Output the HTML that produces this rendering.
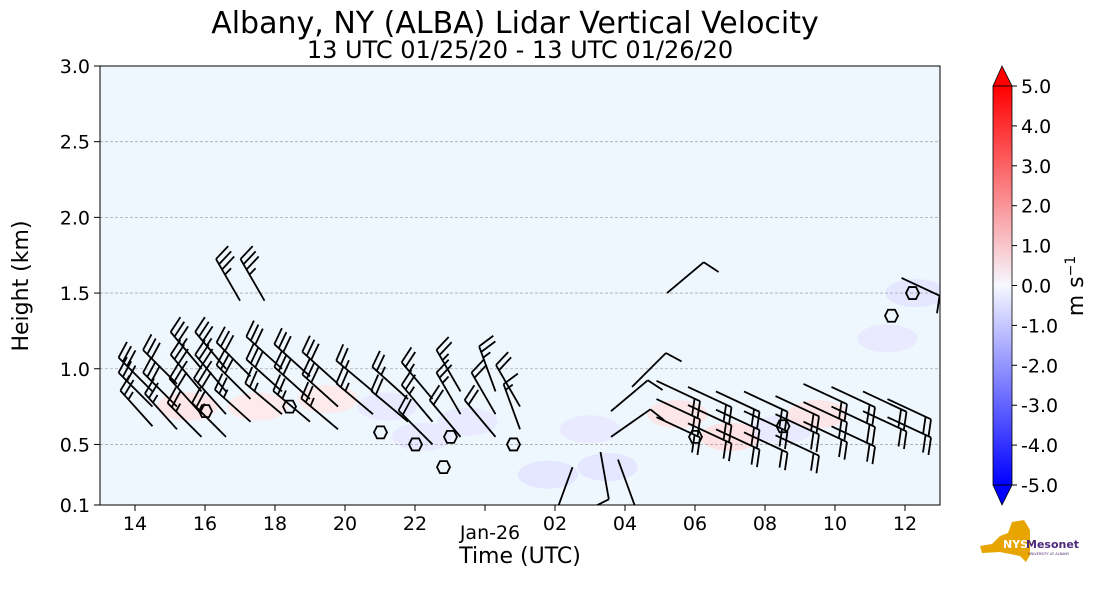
<!DOCTYPE html>
<html><head><meta charset="utf-8"><style>
body{margin:0;background:#fff;}
svg text{font-family:"DejaVu Sans","Liberation Sans",sans-serif;fill:#000;}
</style></head><body>
<svg id="chart" width="1101" height="600" viewBox="0 0 1101 600" xmlns="http://www.w3.org/2000/svg">
<defs>
<linearGradient id="cbg" x1="0" y1="1" x2="0" y2="0">
<stop offset="0" stop-color="#0000ff"/><stop offset="0.5" stop-color="#f6f8ff"/><stop offset="1" stop-color="#ff0000"/>
</linearGradient>
<clipPath id="pc"><rect x="100" y="66" width="840" height="439"/></clipPath>
</defs>
<text x="515" y="33" font-size="30" text-anchor="middle">Albany, NY (ALBA) Lidar Vertical Velocity</text>
<text x="520" y="58" font-size="24" text-anchor="middle">13 UTC 01/25/20 - 13 UTC 01/26/20</text>
<rect x="100" y="66" width="840" height="439" fill="#eef6fe"/>
<g id="shade" clip-path="url(#pc)"></g>
<g id="grid"></g>
<g id="contours" clip-path="url(#pc)"></g>
<g id="barbs" clip-path="url(#pc)"></g>
<rect x="100" y="66" width="840" height="439" fill="none" stroke="#000" stroke-width="1"/>
<g id="yaxis"></g>
<g id="xaxis"></g>
<text transform="translate(28,286) rotate(-90)" font-size="22" text-anchor="middle">Height (km)</text>
<text x="520" y="563" font-size="22" text-anchor="middle">Time (UTC)</text>
<g>
<polygon points="993,86 1002,66 1012,86" fill="#ff0000" stroke="#000" stroke-width="0.8"/>
<rect x="993" y="86" width="19" height="399" fill="url(#cbg)"/>
<polygon points="993,485 1002,505 1012,485" fill="#0000ff" stroke="#000" stroke-width="0.8"/>
<rect x="993" y="86" width="19" height="399" fill="none" stroke="#000" stroke-width="0.8"/>
<g id="cbticks"></g>
<text transform="translate(1083,286) rotate(-90)" font-size="22" text-anchor="middle">m s<tspan baseline-shift="super" font-size="14">−1</tspan></text>
</g>
<g>
<path d="M980,546 L992,544 L1000,536 L1008,533 L1012,522 L1024,520 L1030,530 L1030,555 L1026,562 L1020,556 L1000,552 L982,553 Z" fill="#e8a500"/>
<text x="1003" y="548" font-size="11" font-weight="bold" style="fill:#fff">NYS</text>
<text x="1026" y="548" font-size="11" font-weight="bold" style="fill:#4b2a7b">Mesonet</text>
<text x="1028" y="555" font-size="3.5" style="fill:#4b2a7b">UNIVERSITY AT ALBANY</text>
</g>
</svg>
<script>
// barb data: time (UTC hours from 13 on 01/25), height (km), speed (kt), direction (deg)
const barbTime = [14.5,14.5,14.5,15.2,15.2,15.2,15.9,15.9,15.9,15.9,16.6,16.6,16.6,16.6,17.0,17.7,17.3,17.3,17.3,18.2,18.2,18.2,19.0,19.0,19.0,19.8,19.8,19.8,20.8,20.8,21.8,21.8,22.5,22.5,22.5,23.3,23.3,23.3,24.3,24.3,24.3,25.0,25.0,
 26.5,27.3,27.8,27.6,27.6,28.2,29.2,
 28.9,28.9,28.9,29.8,29.8,29.8,30.6,30.6,30.6,31.4,31.4,31.4,32.3,32.3,32.3,33.1,33.1,33.1,33.9,33.9,33.9,34.8,34.8,35.5,35.5,35.9];
const barbHeight = [0.85,0.75,0.62,0.9,0.75,0.6,1.0,0.85,0.7,0.55,1.0,0.85,0.7,0.55,1.45,1.45,0.95,0.8,0.65,1.0,0.85,0.7,0.95,0.8,0.65,0.9,0.75,0.6,0.85,0.7,0.8,0.65,0.8,0.65,0.5,0.85,0.7,0.55,0.85,0.7,0.55,0.75,0.6,
 0.35,0.45,0.4,0.55,0.72,0.88,1.5,
 0.92,0.8,0.68,0.88,0.76,0.64,0.85,0.73,0.6,0.85,0.72,0.58,0.82,0.7,0.56,0.9,0.78,0.65,0.88,0.75,0.62,0.85,0.72,0.8,0.68,1.6];
const barbSpeed = [30,30,25,30,30,25,35,35,30,25,35,35,30,25,35,35,30,30,25,30,30,25,30,30,25,30,30,25,25,25,25,20,25,25,20,25,25,20,25,20,20,20,15,
 10,10,10,10,10,10,10,
 20,20,20,20,20,20,20,20,20,20,20,20,20,20,20,20,20,20,20,20,20,20,20,20,20,20];
const barbDir = [315,315,318,315,315,318,320,320,318,315,320,320,318,315,330,330,315,315,312,312,312,310,312,312,310,312,312,310,310,310,312,310,320,320,315,330,330,320,340,330,320,330,340,
 200,170,160,55,50,45,50,
 115,115,115,115,115,115,115,115,115,115,115,115,115,115,115,115,115,115,115,115,115,115,115,115,115,115];
// shading patches: time, height, value (m/s)
const shadeTime = [15.5,17.5,19.5,21.2,23.5,25.8,27.5,29.5,31,32.5,33.5,35.5,36.3,22.2,27];
const shadeHeight = [0.75,0.75,0.8,0.75,0.65,0.3,0.35,0.7,0.55,0.6,0.7,1.2,1.5,0.55,0.6];
const shadeValue = [0.4,0.3,0.3,-0.3,-0.3,-0.4,-0.4,0.4,0.5,-0.3,0.4,-0.3,-0.4,-0.3,-0.3];
// contour loop centers: time, height
const contTime = [16.0,18.4,21.0,22.0,23.0,24.8,30.0,32.5,35.6,36.2,22.8];
const contHeight = [0.72,0.75,0.58,0.5,0.55,0.5,0.55,0.62,1.35,1.5,0.35];
const yTicks = [0.1,0.5,1.0,1.5,2.0,2.5,3.0];
const xTicks = [14,16,18,20,22,24,26,28,30,32,34,36];
const xTickLabels = ["14","16","18","20","22","Jan-26","02","04","06","08","10","12"];
const cbTicks = [5,4,3,2,1,0,-1,-2,-3,-4,-5];

const NS='http://www.w3.org/2000/svg';
const xs = t => 100 + 35*(t-13);
const ys = h => 505 - (h-0.1)*439/2.9;
const cbY = v => 285.5 - v*39.9;
function mk(tag, attrs, parent){const e=document.createElementNS(NS,tag);for(const k in attrs)e.setAttribute(k,attrs[k]);parent.appendChild(e);return e;}
function col(v){const f=Math.min(1,Math.abs(v)/5);const g=Math.round(246-246*f);return v>=0?`rgb(255,${g},${g})`:`rgb(${g},${g},255)`;}

const shade=document.getElementById('shade');
shadeTime.forEach((t,i)=>{
  const e=mk('ellipse',{cx:xs(t),cy:ys(shadeHeight[i]),rx:30,ry:14,fill:col(shadeValue[i]),opacity:0.8},shade);
  
  
});
const cont=document.getElementById('contours');
contTime.forEach((t,i)=>{
  const cx=xs(t), cy=ys(contHeight[i]);
  const pts=[[-6,0],[-3,-6],[4,-6],[7,0],[4,6],[-3,6]].map(p=>(cx+p[0])+','+(cy+p[1])).join(' ');
  const e=mk('polygon',{points:pts,fill:'none',stroke:'#000','stroke-width':1.8},cont);
  
  
});

const grid=document.getElementById('grid'), ya=document.getElementById('yaxis'), xa=document.getElementById('xaxis');
yTicks.forEach(v=>{
  const y=ys(v);
  if(v>0.1&&v<3.0){const g=mk('line',{x1:100,x2:940,y1:y,y2:y,stroke:'#aaa','stroke-dasharray':'3,2','stroke-width':0.8},grid);
    
    }
  mk('line',{x1:94,x2:100,y1:y,y2:y,stroke:'#000'},ya);
  const t=mk('text',{x:90,y:y+7,'font-size':19,'text-anchor':'end'},ya);
  t.textContent=v.toFixed(1);
  
  
});
xTicks.forEach((v,i)=>{
  const x=xs(v);
  mk('line',{x1:x,x2:x,y1:505,y2:511,stroke:'#000'},xa);
  const t=mk('text',{x:x+(i===5?5:0),y:i===5?539:530,'font-size':19,'text-anchor':'middle'},xa);
  t.textContent=xTickLabels[i];
  
  
});
const cbt=document.getElementById('cbticks');
cbTicks.forEach(v=>{
  const y=cbY(v);
  mk('line',{x1:1012,x2:1017,y1:y,y2:y,stroke:'#000'},cbt);
  const t=mk('text',{x:1021,y:y+7,'font-size':19},cbt);
  t.textContent=v.toFixed(1);
  
  
});

const bg=document.getElementById('barbs');
const L=48;
barbTime.forEach((t,i)=>{
  const sx=xs(t), sy=ys(barbHeight[i]);
  const a=barbDir[i]*Math.PI/180;
  const dx=Math.sin(a), dy=-Math.cos(a);
  const tx=sx+dx*L, ty=sy+dy*L;
  const g=mk('g',{stroke:'#000','stroke-width':1.8,fill:'none'},bg);
  
  
  mk('line',{x1:sx,y1:sy,x2:tx,y2:ty},g);
  let sp=barbSpeed[i], k=0;
  const px=-dy, py=dx, fl=17;
  while(sp>=5){
    const full=sp>=10;
    const bx=tx-dx*k*6, by=ty-dy*k*6;
    const len=full?fl:fl/2;
    mk('line',{x1:bx,y1:by,x2:bx+px*len+dx*len*0.3,y2:by+py*len+dy*len*0.3},g);
    sp-=full?10:5;k++;
  }
});
</script>
</body></html>
